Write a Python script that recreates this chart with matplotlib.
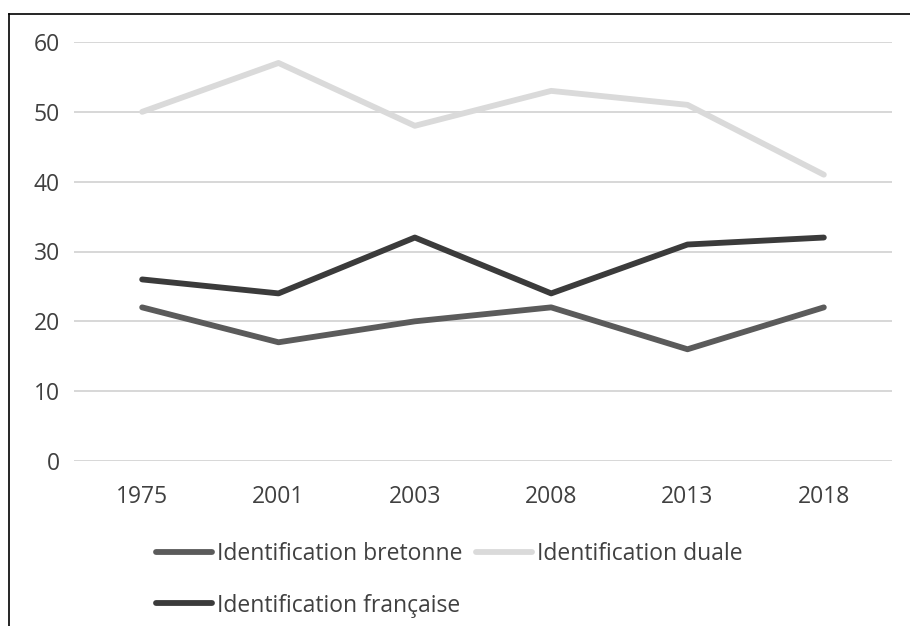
import matplotlib.pyplot as plt
from matplotlib.lines import Line2D

plt.rcParams['font.family'] = ['Open Sans', 'DejaVu Sans']

years = ['1975', '2001', '2003', '2008', '2013', '2018']
bretonne = [22, 17, 20, 22, 16, 22]
duale = [50, 57, 48, 53, 51, 41]
francaise = [26, 24, 32, 24, 31, 32]

W, H = 910, 626
fig = plt.figure(figsize=(W / 100, H / 100), dpi=100)
ax = fig.add_axes([74 / W, 1 - 461 / H, (892 - 74) / W, (461 - 42) / H])

x = range(len(years))
l1, = ax.plot(x, bretonne, color='#5b5b5b', lw=4.2, solid_capstyle='round', label='Identification bretonne', zorder=3)
l2, = ax.plot(x, duale, color='#dadada', lw=4.2, solid_capstyle='round', label='Identification duale', zorder=3)
l3, = ax.plot(x, francaise, color='#3b3b3b', lw=4.2, solid_capstyle='round', label='Identification française', zorder=3)

ax.set_xlim(-0.5, len(years) - 0.5)
ax.set_ylim(0, 60)
ax.set_yticks(range(0, 61, 10))
ax.set_xticks(list(x))
ax.set_xticklabels(years)
ax.yaxis.grid(True, color='#d4d4d4', lw=1.3)
ax.set_axisbelow(True)
for s in ax.spines.values():
    s.set_visible(False)
ax.tick_params(length=0, labelsize=16.5, labelcolor='#404040')
ax.tick_params(axis='x', pad=17)
ax.tick_params(axis='y', pad=10)

fig.legend([l1, l3, l2], [l1.get_label(), l3.get_label(), l2.get_label()],
           ncol=2, loc='upper left', bbox_to_anchor=(156 / W, 1 - 542 / H),
           frameon=False, fontsize=16.5, labelcolor='#404040',
           handlelength=2.45, handletextpad=0.2, columnspacing=0.6,
           borderpad=0, borderaxespad=0, labelspacing=1.2)

# frame around the picture (left and top edges)
fig.add_artist(Line2D([9 / W, 9 / W], [0, 1 - 14 / H], color='black', lw=1.2))
fig.add_artist(Line2D([9 / W, 1], [1 - 14 / H, 1 - 14 / H], color='black', lw=1.2))

fig.savefig('out.png', dpi=100)
